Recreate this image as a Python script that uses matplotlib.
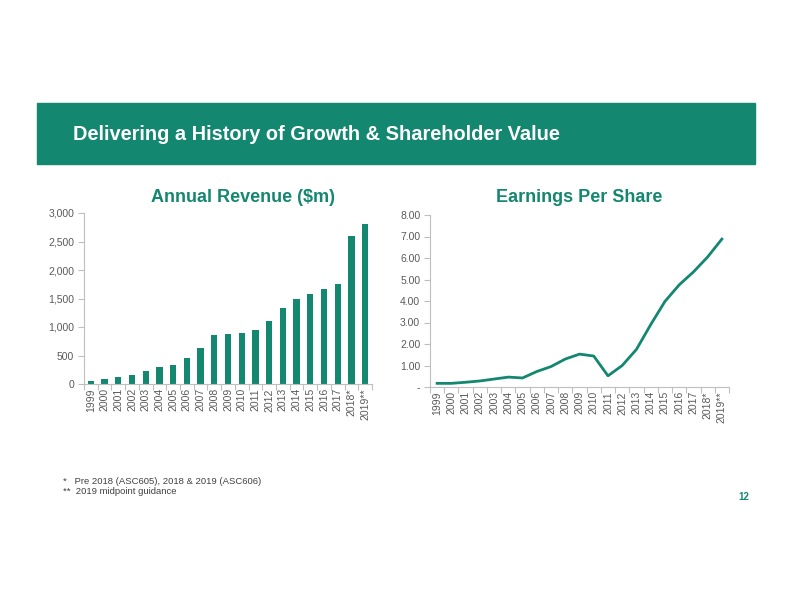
"""Revenue and EPS history slide."""

import numpy as np
import matplotlib
matplotlib.use("Agg")
import matplotlib.pyplot as plt
from matplotlib.ticker import FuncFormatter, FixedLocator

plt.rcParams['font.family'] = ['Liberation Sans', 'DejaVu Sans']

GREEN = '#138770'
GRAY = '#595959'
AXIS_GRAY = '#bfbfbf'

years = ['1999', '2000', '2001', '2002', '2003', '2004', '2005', '2006', '2007',
         '2008', '2009', '2010', '2011', '2012', '2013', '2014', '2015', '2016',
         '2017', '2018*', '2019**']
revenue = [55, 80, 115, 155, 225, 300, 325, 460, 630, 865, 885, 895, 940,
           1110, 1340, 1500, 1575, 1665, 1760, 2600, 2810]
eps = [0.17, 0.17, 0.22, 0.28, 0.37, 0.46, 0.42, 0.72, 0.95, 1.30, 1.53, 1.44,
       0.52, 1.00, 1.75, 2.90, 3.98, 4.75, 5.35, 6.05, 6.88]

footnotes = ['*   Pre 2018 (ASC605), 2018 & 2019 (ASC606)',
             '**  2019 midpoint guidance']

fig = plt.figure(figsize=(7.92, 6.12), dpi=100)

# header band
fig.patches.append(plt.Rectangle((37 / 792, 1 - 164 / 612), 718 / 792, 61 / 612,
                                 transform=fig.transFigure, color=GREEN, zorder=0))
fig.text(73 / 792, 1 - 134 / 612, 'Delivering a History of Growth & Shareholder Value',
         color='white', fontsize=14.4, fontweight='bold', va='center', ha='left')


def style_axes(ax):
    for side in ['top', 'right']:
        ax.spines[side].set_visible(False)
    for side in ['left', 'bottom']:
        ax.spines[side].set_color(AXIS_GRAY)
        ax.spines[side].set_linewidth(0.8)
    x = np.arange(len(years))
    ax.set_xlim(-0.5, len(years) - 0.5)
    ax.set_xticks(x)
    ax.set_xticklabels(years, rotation=90, fontsize=7.5, color=GRAY)
    ax.xaxis.set_minor_locator(FixedLocator(np.arange(-0.5, len(years), 1)))
    ax.tick_params(axis='x', which='major', length=0, pad=3)
    ax.tick_params(axis='x', which='minor', length=4, color=AXIS_GRAY, width=0.8)
    ax.tick_params(axis='y', length=4, color=AXIS_GRAY, width=0.8,
                   labelsize=7.5, labelcolor=GRAY, pad=3)


# revenue bars
ax1 = fig.add_axes([84 / 792, 1 - 384 / 612, 288 / 792, 171 / 612])
ax1.bar(np.arange(len(years)), revenue, width=0.45, color=GREEN)
ax1.set_ylim(0, 3000)
ax1.set_yticks(range(0, 3001, 500))
ax1.yaxis.set_major_formatter(FuncFormatter(lambda v, p: f'{int(v):,}'))
style_axes(ax1)
fig.text(243 / 792, 1 - 198 / 612, 'Annual Revenue ($m)', color=GREEN,
         fontsize=13, fontweight='bold', ha='center', va='center')

# EPS line
ax2 = fig.add_axes([430 / 792, 1 - 387 / 612, 299 / 792, 172 / 612])
ax2.plot(np.arange(len(years)), eps, color=GREEN, linewidth=2)
ax2.set_ylim(0, 8)
ax2.set_yticks(range(0, 9))
ax2.yaxis.set_major_formatter(FuncFormatter(lambda v, p: '-' if v == 0 else f'{v:.2f}'))
style_axes(ax2)
fig.text(579 / 792, 1 - 198 / 612, 'Earnings Per Share', color=GREEN,
         fontsize=13, fontweight='bold', ha='center', va='center')

# footnotes
for i, note in enumerate(footnotes):
    fig.text(63 / 792, 1 - (481 + 10 * i) / 612, note, color='#404040',
             fontsize=6.8, va='center', ha='left')
fig.text(744 / 792, 1 - 497 / 612, '12', color=GREEN, fontsize=7,
         fontweight='bold', va='center', ha='center')

fig.savefig('out.png', dpi=100)
